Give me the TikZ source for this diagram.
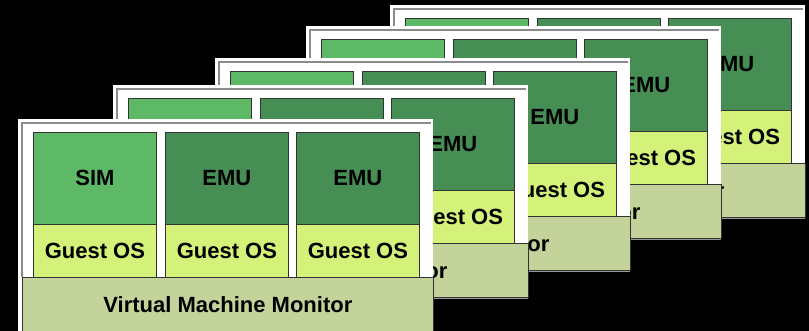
\documentclass[tikz,border=0pt]{standalone}
\usepackage{fontspec}
\setmainfont{Liberation Sans}

\definecolor{simgreen}{RGB}{93,185,102}
\definecolor{emugreen}{RGB}{70,142,84}
\definecolor{guestyellow}{RGB}{212,242,122}
\definecolor{vmmkhaki}{RGB}{195,211,154}

\tikzset{
  layerbox/.style={draw=black!80, line width=0.8pt, inner sep=0pt, anchor=north west,
    text=black, font=\bfseries\fontsize{22}{25}\selectfont},
  appbox/.style={layerbox, minimum width=123pt, minimum height=92pt},
  osbox/.style={layerbox, fill=guestyellow, minimum width=123pt, minimum height=53pt},
  vmmbox/.style={layerbox, fill=vmmkhaki, minimum width=411pt, minimum height=54pt},
}

\begin{document}
\begin{tikzpicture}[x=1pt, y=-1pt]

  % --- 1. Hintergrund ---
  \fill[black] (0,0) rectangle (809,331);
  \useasboundingbox (0,0) rectangle (809,331);

  % --- 2. Rahmen, von hinten nach vorne ---
  \foreach \p/\ox/\oy in {4/390/5, 3/306/26, 2/215/58, 1/113/85, 0/18/119} {
    \begin{scope}[shift={(\ox,\oy)}]
      \fill[white] (0,0) rectangle (415,212);
      \draw[black!45, line width=1.5pt] (4,158) -- (4,4) -- (413,4);
      \draw[black!40, line width=1.5pt] (4,213) -- (415,213);

      % --- 3. Spalten: SIM / EMU / EMU ueber Guest OS ---
      \foreach \c/\cx/\kind/\col in {1/15/SIM/simgreen, 2/147/EMU/emugreen, 3/278/EMU/emugreen} {
        \node[appbox, fill=\col] (app-\p-\c) at (\cx,13) {\kind};
        \node[osbox] (os-\p-\c) at (\cx,105) {Guest OS};
      }

      % --- 4. VMM-Leiste ---
      \node[vmmbox] (vmm-\p) at (4,158) {Virtual Machine Monitor};
    \end{scope}
  }

\end{tikzpicture}
\end{document}
